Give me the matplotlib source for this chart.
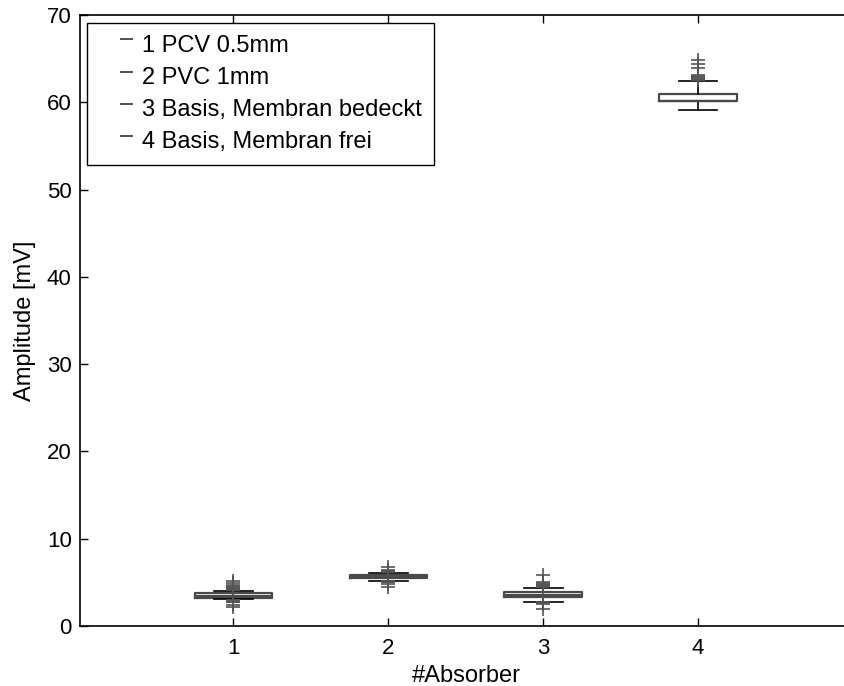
import matplotlib
matplotlib.use("Agg")
import matplotlib.pyplot as plt
from matplotlib.lines import Line2D
from matplotlib.path import Path

plt.rcParams['font.family'] = ['Liberation Sans', 'DejaVu Sans']

labels = ["1 PCV 0.5mm", "2 PVC 1mm", "3 Basis, Membran bedeckt", "4 Basis, Membran frei"]
positions = [1, 2, 3, 4]
medians = [3.45, 5.65, 3.6, 60.2]
q1 = [3.25, 5.5, 3.36, 60.1]
q3 = [3.75, 5.82, 3.86, 60.95]
whislo = [3.06, 5.2, 2.8, 59.1]
whishi = [4.0, 6.1, 4.4, 62.4]
fliers = [
    [4.1, 4.2, 4.3, 4.4, 4.5, 4.6, 4.7, 4.9, 5.1, 3.0, 2.9, 2.8, 2.7, 2.4, 2.2],
    [6.2, 6.25, 6.3, 6.35, 6.45, 6.8, 5.1, 5.05, 5.0, 4.8, 4.5],
    [4.5, 4.6, 4.7, 4.8, 4.9, 5.0, 5.85, 2.75, 2.65, 2.55, 2.0],
    [62.5, 62.6, 62.7, 62.8, 62.9, 63.0, 63.1, 63.9, 64.4, 64.9],
]
xlabel = "#Absorber"
ylabel = "Amplitude [mV]"
yticks = [0, 10, 20, 30, 40, 50, 60, 70]

fig = plt.figure(figsize=(8.44, 6.86), dpi=100)
ax = fig.add_axes([80/844, 60/686, 773/844, 611/686])

stats = []
for i in range(len(positions)):
    stats.append(dict(med=medians[i], q1=q1[i], q3=q3[i], whislo=whislo[i],
                      whishi=whishi[i], fliers=fliers[i], label=labels[i]))

ax.bxp(stats, positions=positions, widths=0.5, showfliers=True,
       boxprops=dict(color='#4a4a4a', linewidth=1.6),
       medianprops=dict(color='#4a4a4a', linewidth=1.6),
       whiskerprops=dict(color='black', linewidth=1.2, linestyle='-'),
       capprops=dict(color='black', linewidth=1.2),
       capwidths=0.25,
       flierprops=dict(marker='+', markeredgecolor='#555555', markersize=10,
                       markeredgewidth=1.2, linestyle='none'))

ax.set_xlim(0.01, 5.0)
ax.set_ylim(0, 70)
ax.set_xticks(positions)
ax.set_xticklabels([str(p) for p in positions])
ax.set_yticks(yticks)
ax.tick_params(direction='in', length=6, width=1, labelsize=16, top=True, right=False)
ax.tick_params(axis='x', pad=9)
ax.tick_params(axis='y', pad=6)
for s in ax.spines.values():
    s.set_linewidth(1.2)

ax.set_xlabel(xlabel, fontsize=17, labelpad=4)
ax.set_ylabel(ylabel, fontsize=17, labelpad=8)

dash = Path([(0.2, 0.25), (1.0, 0.25)], [Path.MOVETO, Path.LINETO])
handles = [Line2D([0], [0], color='#333333', linestyle='none', marker=dash,
                  markersize=23.4, markeredgewidth=1.2) for _ in labels]
leg = ax.legend(handles, labels, loc='upper left', bbox_to_anchor=(0.009, 0.987),
                fontsize=17, frameon=True, fancybox=False, edgecolor='black',
                framealpha=1, handlelength=1.52, handletextpad=0.31, numpoints=1,
                borderpad=0.5, labelspacing=0.43, borderaxespad=0)
leg.get_frame().set_linewidth(1.0)

fig.savefig("out.png", dpi=100)
